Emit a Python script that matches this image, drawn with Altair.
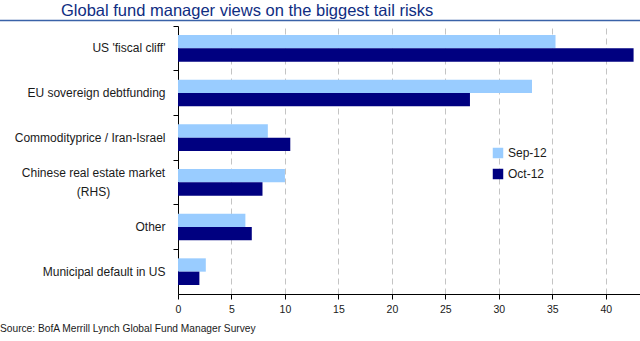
import altair as alt
import pandas as pd

categories = ["US 'fiscal cliff'", "EU sovereign debtfunding", "Commodityprice / Iran-Israel",
              "Chinese real estate market (RHS)", "Other", "Municipal default in US"]
series = ["Sep-12", "Oct-12"]
sep_values = [35.3, 33.1, 8.4, 10.0, 6.3, 2.6]
oct_values = [42.6, 27.3, 10.5, 7.9, 6.9, 2.0]
x_ticks = [0, 5, 10, 15, 20, 25, 30, 35, 40]
colors = ["#99CCFF", "#000080"]
title_text = "Global fund manager views on the biggest tail risks"
source_text = "Source: BofA Merrill Lynch Global Fund Manager Survey"
wrapped_label = "Chinese real estate market\n(RHS)"

rows = []
for c, s, o in zip(categories, sep_values, oct_values):
    rows.append({"risk": c, "series": "Sep-12", "value": s})
    rows.append({"risk": c, "series": "Oct-12", "value": o})
df = pd.DataFrame(rows)

REG = "Liberation Sans, Arial, sans-serif"
WRAPPED = "Chinese real estate market (RHS)"

label_expr = "datum.value == '" + WRAPPED + "' ? '' : datum.value"

y_enc = alt.Y("risk:N", sort=categories,
              scale=alt.Scale(paddingInner=0, paddingOuter=0),
              axis=alt.Axis(title=None, domainColor="#000000", tickColor="#000000",
                            tickSize=5, bandPosition=0, labelPadding=8,
                            labelFontSize=12, labelFont=REG, labelColor="#1a1a1a",
                            labelExpr=label_expr))

bars = alt.Chart(df).mark_bar().encode(
    y=y_enc,
    yOffset=alt.YOffset("series:N", sort=series,
                        scale=alt.Scale(paddingInner=0, paddingOuter=0.675)),
    x=alt.X("value:Q", scale=alt.Scale(domain=[0, 43.2], nice=False, zero=True),
            axis=alt.Axis(title=None, values=x_ticks, domainColor="#000000",
                          tickColor="#000000", tickSize=5, labelPadding=5,
                          labelFontSize=10.5, labelFont=REG, labelColor="#1a1a1a",
                          grid=True, gridColor="#c4c4c4", gridDash=[6, 4],
                          labelFlush=False)),
    color=alt.Color("series:N", sort=series,
                    scale=alt.Scale(domain=series, range=colors),
                    legend=alt.Legend(title=None, orient="none", legendX=314, legendY=121,
                                      symbolType="square", symbolSize=110,
                                      symbolStrokeWidth=0, labelFontSize=12,
                                      labelFont=REG, labelColor="#1a1a1a",
                                      rowPadding=9, labelOffset=4)),
)

wrap_df = pd.DataFrame({"risk": [WRAPPED], "t": [wrapped_label]})
wrap_label = alt.Chart(wrap_df).mark_text(
    align="center", baseline="middle", font=REG, fontSize=12, color="#1a1a1a",
    lineBreak="\n", lineHeight=19, dy=-9.5
).encode(text="t:N", y=alt.Y("risk:N", sort=categories), x=alt.value(-84.5))

title_df = pd.DataFrame({"t": [title_text]})
title = alt.Chart(title_df).mark_text(
    align="left", baseline="alphabetic", font=REG, fontSize=16.5, color="#0F2D82"
).encode(text="t:N", x=alt.value(-117), y=alt.value(-10.5))

title_line = alt.Chart(title_df).mark_rule(color="#3A62A8", strokeWidth=1.5).encode(
    x=alt.value(-178), x2=alt.value(462), y=alt.value(-5.5)
)

source_df = pd.DataFrame({"t": [source_text]})
source = alt.Chart(source_df).mark_text(
    align="left", baseline="alphabetic", font=REG, fontSize=10.2, color="#1a1a1a"
).encode(text="t:N", x=alt.value(-178), y=alt.value(306))

chart = alt.layer(bars, wrap_label, title_line, title, source).properties(
    width=462, height=268,
    autosize=alt.AutoSizeParams(type="none"),
    padding={"left": 178, "top": 26, "right": 0, "bottom": 47},
    background="white",
).configure_view(stroke=None)

chart.save("out.html", embed_options={"renderer": "svg", "actions": False})
